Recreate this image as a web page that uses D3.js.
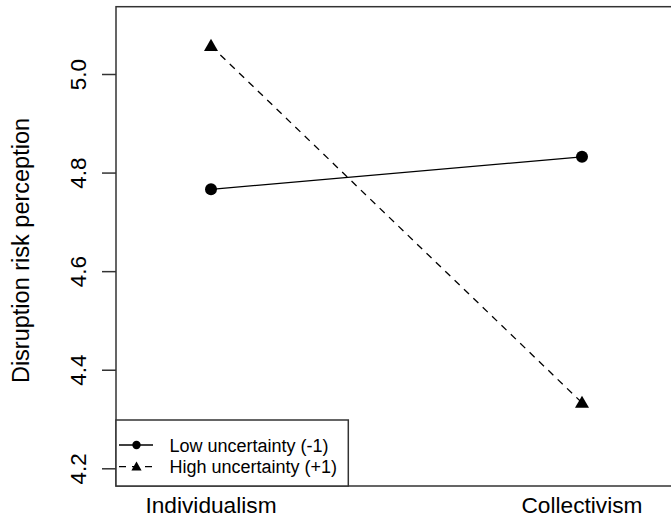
<!DOCTYPE html>
<html>
<head>
<meta charset="utf-8">
<script src="https://cdn.jsdelivr.net/npm/d3@7"></script>
<style>
  html, body { margin: 0; padding: 0; background: #fff; }
  svg { display: block; font-family: "Liberation Sans", Arial, Helvetica, sans-serif; }
</style>
</head>
<body>
<svg id="chart" width="671" height="519"></svg>
<script>
const categories = ["Individualism", "Collectivism"];
const lowUncertainty = [4.766, 4.832];
const highUncertainty = [5.057, 4.333];
const yTicks = [4.2, 4.4, 4.6, 4.8, 5.0];
const seriesNames = ["Low uncertainty (-1)", "High uncertainty (+1)"];
const yLabel = "Disruption risk perception";

const svg = d3.select("#chart");
const box = { left: 116, right: 677, top: 6.7, bottom: 486 };

const x = d3.scaleLinear().domain([0, 1]).range([211, 582]);
const y = d3.scaleLinear().domain([4.2, 5.0]).range([468.3, 74]);

const axisColor = "#333";

// plot box
svg.append("rect")
  .attr("x", box.left).attr("y", box.top)
  .attr("width", box.right - box.left).attr("height", box.bottom - box.top)
  .attr("fill", "none").attr("stroke", axisColor).attr("stroke-width", 1.5);

// y axis
const yAxis = d3.axisLeft(y).tickValues(yTicks).tickFormat(d3.format(".1f")).tickSize(14).tickPadding(0);
const gy = svg.append("g").attr("transform", `translate(${box.left},0)`).call(yAxis);
gy.select(".domain").remove();
gy.selectAll(".tick line").attr("stroke", axisColor).attr("stroke-width", 1.5);
gy.selectAll(".tick text")
  .attr("x", 0).attr("y", 0).attr("dy", 0)
  .attr("transform", "translate(-30,0) rotate(-90)")
  .attr("text-anchor", "middle")
  .attr("fill", "#000")
  .style("font-size", "22.5px");

// x labels
svg.append("g").selectAll("text").data(categories).join("text")
  .attr("x", (d, i) => x(i)).attr("y", 513)
  .attr("text-anchor", "middle").style("font-size", "22.7px").attr("fill", "#000")
  .text(d => d);

// y label
svg.append("text")
  .attr("transform", `translate(28.5,250.5) rotate(-90)`)
  .attr("text-anchor", "middle").style("font-size", "23.5px").attr("fill", "#000")
  .text(yLabel);

const line = d3.line().x((d, i) => x(i)).y(d => y(d));
const tri = d3.symbol().type(d3.symbolTriangle);

// low series
svg.append("path").datum(lowUncertainty).attr("d", line)
  .attr("fill", "none").attr("stroke", "#000").attr("stroke-width", 1.3);
svg.append("g").selectAll("circle").data(lowUncertainty).join("circle")
  .attr("cx", (d, i) => x(i)).attr("cy", d => y(d)).attr("r", 6).attr("fill", "#000");

// high series
svg.append("path").datum(highUncertainty).attr("d", line)
  .attr("fill", "none").attr("stroke", "#000").attr("stroke-width", 1.3)
  .attr("stroke-dasharray", "7,6");
svg.append("g").selectAll("path").data(highUncertainty).join("path")
  .attr("d", tri.size(85)())
  .attr("transform", (d, i) => `translate(${x(i)},${y(d) + 1})`)
  .attr("fill", "#000");

// legend
const lg = { left: box.left, right: 348.3, top: 420, bottom: box.bottom };
svg.append("rect")
  .attr("x", lg.left).attr("y", lg.top)
  .attr("width", lg.right - lg.left).attr("height", lg.bottom - lg.top)
  .attr("fill", "#fff").attr("stroke", axisColor).attr("stroke-width", 1.5);
const rows = [445, 466.7];
seriesNames.forEach((name, i) => {
  const ry = rows[i];
  svg.append("line").attr("x1", 119).attr("x2", 153).attr("y1", ry).attr("y2", ry)
    .attr("stroke", "#000").attr("stroke-width", 1.3)
    .attr("stroke-dasharray", i === 1 ? "7,6" : null);
  if (i === 0) {
    svg.append("circle").attr("cx", 136.5).attr("cy", ry).attr("r", 4.2).attr("fill", "#000");
  } else {
    svg.append("path").attr("d", tri.size(45)()).attr("transform", `translate(136.5,${ry + 0.8})`).attr("fill", "#000");
  }
  svg.append("text").attr("x", 169.5).attr("y", ry + 6.5)
    .style("font-size", "18px").attr("fill", "#000").text(name);
});
</script>
</body>
</html>
